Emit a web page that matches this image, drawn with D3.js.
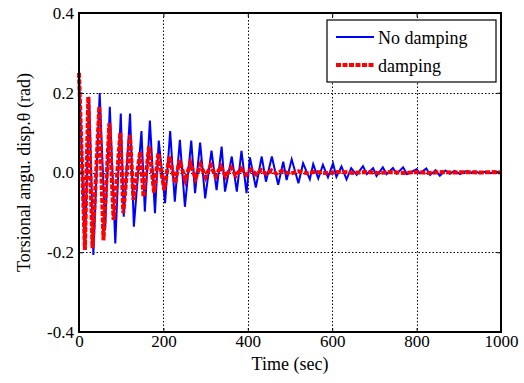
<!DOCTYPE html>
<html>
<head>
<meta charset="utf-8">
<script src="https://cdn.jsdelivr.net/npm/d3@7"></script>
<style>
  body { margin: 0; background: #fff; }
  text { font-family: "Liberation Serif", "Times New Roman", serif; }
</style>
</head>
<body>
<div class="chart"></div>
<script>
// values (time in sec, angle in rad)
const noDampT = [0, 14, 24, 34, 49, 62, 73, 86, 99, 106, 121, 130, 148, 156, 168, 180, 189, 204, 216, 227,
    239, 251, 266, 275, 287, 299, 314, 326, 338, 346, 362, 374, 385, 397, 405, 419, 433, 443, 457, 472,
    484, 492, 504, 520, 531, 547, 555, 567, 578, 590, 602, 610, 622, 634, 645, 658, 673, 682, 697, 705,
    720, 729, 744, 753, 768, 777, 800, 808, 823, 832, 845, 855, 868, 879, 890, 903, 915, 926, 938, 950,
    962, 975, 987, 1000];
const noDampV = [0.25, -0.194, 0.19, -0.207, 0.199, -0.14, 0.165, -0.178, 0.148, -0.111, 0.148, -0.136, 0.104, -0.098, 0.13, -0.102, 0.08, -0.077, 0.104, -0.073,
    0.082, -0.086, 0.08, -0.052, 0.075, -0.065, 0.055, -0.044, 0.065, -0.048, 0.04, -0.048, 0.054, -0.052, 0.038, -0.038, 0.04, -0.023, 0.04, -0.031,
    0.027, -0.019, 0.033, -0.027, 0.023, -0.017, 0.021, -0.015, 0.019, -0.012, 0.023, -0.011, 0.015, -0.017, 0.011, -0.006, 0.016, -0.004, 0.011, -0.009,
    0.013, -0.004, 0.011, -0.003, 0.013, -0.004, 0.008, -0.002, 0.01, -0.006, 0.006, -0.008, 0.005, -0.003, 0.004, -0.004, 0.003, -0.001, 0.003, -0.002,
    0.002, -0.002, 0.002, 0];

const dampT = [0, 14, 22, 32, 48, 58, 72, 82, 98, 105, 121, 129, 145, 153, 166, 178, 188, 202, 214, 228,
    238, 252, 264, 276, 288, 300, 312, 324, 336, 348, 360, 372, 384, 396, 408, 420, 432, 444, 456, 468,
    480, 500, 520, 540, 560, 590, 620, 650, 680, 710, 740, 770, 800, 830, 860, 890, 920, 950, 980, 1000];
const dampV = [0.25, -0.194, 0.19, -0.19, 0.165, -0.17, 0.124, -0.119, 0.1, -0.102, 0.094, -0.069, 0.052, -0.061, 0.065, -0.05, 0.048, -0.044, 0.04, -0.027,
    0.031, -0.019, 0.024, -0.015, 0.02, -0.012, 0.018, -0.01, 0.015, -0.01, 0.012, -0.008, 0.01, -0.006, 0.008, -0.005, 0.006, -0.004, 0.005, -0.003,
    0.004, -0.003, 0.003, -0.002, 0.002, -0.002, 0.002, -0.001, 0.001, -0.001, 0.001, -0.001, 0.001, -0.001, 0.001, 0, 0.001, 0, 0.001, 0];

const xTicks = [0, 200, 400, 600, 800, 1000];
const yTicks = [-0.4, -0.2, 0, 0.2, 0.4];
const seriesNames = ["No damping", "damping"];

const W = 524, H = 383;
const margin = { left: 79, right: 23, top: 13, bottom: 51 };
const iw = W - margin.left - margin.right;
const ih = H - margin.top - margin.bottom;
const fs = 17;

const svg = d3.select(".chart")
    .append("svg")
    .attr("width", W)
    .attr("height", H);

const x = d3.scaleLinear().domain([0, 1000]).range([0, iw]);
const y = d3.scaleLinear().domain([-0.4, 0.4]).range([ih, 0]);

const g = svg.append("g").attr("transform", `translate(${margin.left},${margin.top})`);

// dotted grid
g.append("g")
    .selectAll("line")
    .data(xTicks.slice(1, -1))
    .join("line")
    .attr("x1", d => Math.round(x(d)) + 0.5).attr("x2", d => Math.round(x(d)) + 0.5)
    .attr("y1", 0).attr("y2", ih)
    .attr("stroke", "#000").attr("stroke-width", 1)
    .attr("stroke-dasharray", "1.5,2");

g.append("g")
    .selectAll("line")
    .data(yTicks.slice(1, -1))
    .join("line")
    .attr("y1", d => Math.round(y(d)) + 0.5).attr("y2", d => Math.round(y(d)) + 0.5)
    .attr("x1", 0).attr("x2", iw)
    .attr("stroke", "#000").attr("stroke-width", 1)
    .attr("stroke-dasharray", "1.5,2");

const line = d3.line()
    .x(d => x(d[0]))
    .y(d => y(d[1]));

const blue = d3.zip(noDampT, noDampV);
const red = d3.zip(dampT, dampV);

g.append("path")
    .datum(blue)
    .attr("fill", "none")
    .attr("stroke", "#0000ff")
    .attr("stroke-width", 2)
    .attr("d", line);

g.append("path")
    .datum(red)
    .attr("fill", "none")
    .attr("stroke", "#ff0000")
    .attr("stroke-width", 4)
    .attr("stroke-dasharray", "5,1.5")
    .attr("d", line);

// axes, ticks pointing inward like matlab
const fmtY = d => d.toFixed(1);

g.append("g")
    .attr("transform", `translate(0,${ih})`)
    .call(d3.axisBottom(x).tickValues(xTicks).tickSize(-4).tickPadding(3).tickFormat(d => d))
    .call(a => a.select(".domain").remove());

g.append("g")
    .call(d3.axisLeft(y).tickValues(yTicks).tickSize(-4).tickPadding(5).tickFormat(fmtY))
    .call(a => a.select(".domain").remove());

g.append("g")
    .call(d3.axisTop(x).tickValues(xTicks).tickSize(-4).tickFormat(""))
    .call(a => a.select(".domain").remove());

g.append("g")
    .attr("transform", `translate(${iw},0)`)
    .call(d3.axisRight(y).tickValues(yTicks).tickSize(-4).tickFormat(""))
    .call(a => a.select(".domain").remove());

g.selectAll(".tick text")
    .attr("font-family", "Liberation Serif")
    .attr("font-size", fs)
    .attr("fill", "#000");
g.selectAll(".tick line").attr("stroke", "#000");

g.append("rect")
    .attr("width", iw).attr("height", ih)
    .attr("fill", "none")
    .attr("stroke", "#000")
    .attr("stroke-width", 2);

// axis titles
svg.append("text")
    .attr("x", margin.left + iw / 2)
    .attr("y", 370)
    .attr("text-anchor", "middle")
    .attr("font-size", 18)
    .text("Time (sec)");

svg.append("text")
    .attr("transform", `translate(30,${margin.top + ih / 2}) rotate(-90)`)
    .attr("text-anchor", "middle")
    .attr("font-size", 18)
    .text("Torsional angu. disp.\u03b8 (rad)");

// legend
const lg = svg.append("g").attr("transform", "translate(327,20)");
lg.append("rect")
    .attr("width", 169).attr("height", 62)
    .attr("fill", "#fff")
    .attr("stroke", "#000")
    .attr("stroke-width", 1.2);

const legendRows = [
    { name: seriesNames[0], color: "#0000ff", width: 2, dash: null, y: 17 },
    { name: seriesNames[1], color: "#ff0000", width: 4, dash: "5,1.5", y: 45 }
];

const row = lg.selectAll(".row")
    .data(legendRows)
    .join("g")
    .attr("class", "row")
    .attr("transform", d => `translate(0,${d.y})`);

row.append("line")
    .attr("x1", 9).attr("x2", 47)
    .attr("stroke", d => d.color)
    .attr("stroke-width", d => d.width)
    .attr("stroke-dasharray", d => d.dash);

row.append("text")
    .attr("x", 51)
    .attr("y", 7)
    .attr("font-size", 18)
    .text(d => d.name);
</script>
</body>
</html>
